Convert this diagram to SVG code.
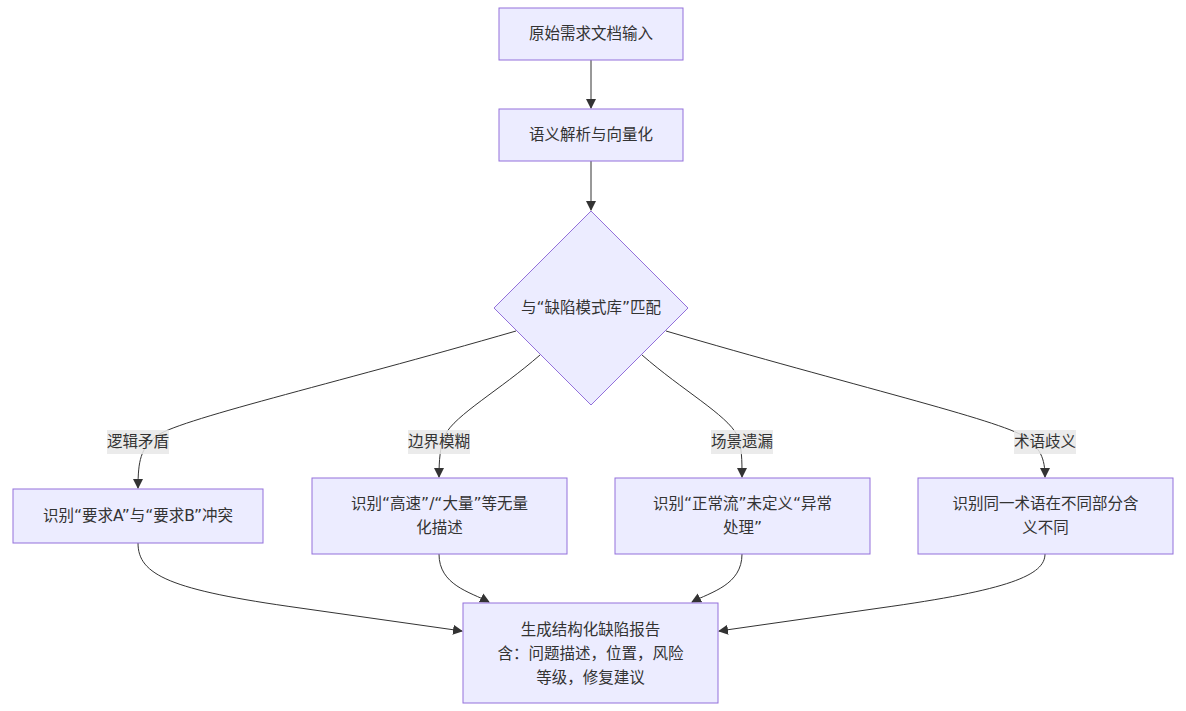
<svg xmlns="http://www.w3.org/2000/svg" width="1186" height="711" viewBox="0 0 1186 711">
<style>
.node rect,.node polygon{fill:#ECECFF;stroke:#9370DB;stroke-width:1}
text{font-family:"DejaVu Sans","Noto Sans CJK SC",sans-serif;font-size:15.5px;fill:#333;text-anchor:middle;dominant-baseline:central}
.edge{fill:none;stroke:#333;stroke-width:1}
.lbl{fill:#e8e8e8;opacity:0.85}
</style>
<defs>
<marker id="arr" viewBox="0 0 10 10" refX="9" refY="5" markerWidth="10" markerHeight="10" markerUnits="userSpaceOnUse" orient="auto">
<path d="M0,0 L10,5 L0,10 z" fill="#333"/>
</marker>
</defs>
<rect width="1186" height="711" fill="#ffffff"/>
<g id="edges">
<path class="edge" d="M591,60 L591,108" marker-end="url(#arr)"/>
<path class="edge" d="M591,161 L591,210" marker-end="url(#arr)"/>
<path class="edge" d="M516,331 C330,385 175,420 155,437 C141,449 138,460 138,488" marker-end="url(#arr)"/>
<path class="edge" d="M540,355 C500,390 455,415 445,435 C440,447 439,460 439,477" marker-end="url(#arr)"/>
<path class="edge" d="M642,355 C682,390 727,415 737,435 C742,447 742,460 742,477" marker-end="url(#arr)"/>
<path class="edge" d="M666,331 C850,385 1000,420 1025,437 C1040,448 1045,458 1045,477" marker-end="url(#arr)"/>
<path class="edge" d="M138,543 C138,575 170,590 300,608 L462,631" marker-end="url(#arr)"/>
<path class="edge" d="M439,554 C439,585 470,592 489,602" marker-end="url(#arr)"/>
<path class="edge" d="M742,554 C742,585 711,592 692,602" marker-end="url(#arr)"/>
<path class="edge" d="M1045,554 C1045,575 1010,590 880,608 L719,631" marker-end="url(#arr)"/>
<g id="edge-labels">
<rect class="lbl" x="107" y="430" width="62" height="24"/><text x="138" y="442">逻辑矛盾</text>
<rect class="lbl" x="408" y="430" width="62" height="24"/><text x="439" y="442">边界模糊</text>
<rect class="lbl" x="711" y="430" width="62" height="24"/><text x="742" y="442">场景遗漏</text>
<rect class="lbl" x="1014" y="430" width="62" height="24"/><text x="1045" y="442">术语歧义</text>
</g>
</g>
<g id="n1" class="node"><rect x="499" y="8" width="184" height="52"/><text x="591" y="34">原始需求文档输入</text></g>
<g id="n2" class="node"><rect x="499" y="109" width="184" height="52"/><text x="591" y="135">语义解析与向量化</text></g>
<g id="n3" class="node"><polygon points="591,211 688,308 591,405 494,308"/><text x="591" y="308">与“缺陷模式库”匹配</text></g>
<g id="nA" class="node"><rect x="13" y="489" width="250" height="54"/><text x="138" y="516">识别“要求A”与“要求B”冲突</text></g>
<g id="nB" class="node"><rect x="312" y="478" width="255" height="76"/><text x="439.5" y="504">识别“高速”/“大量”等无量</text><text x="439.5" y="528">化描述</text></g>
<g id="nC" class="node"><rect x="615" y="478" width="255" height="76"/><text x="742.5" y="504">识别“正常流”未定义“异常</text><text x="742.5" y="528">处理”</text></g>
<g id="nD" class="node"><rect x="918" y="478" width="255" height="76"/><text x="1045.5" y="504">识别同一术语在不同部分含</text><text x="1045.5" y="528">义不同</text></g>
<g id="nE" class="node"><rect x="463" y="603" width="255" height="100"/><text x="590.5" y="630">生成结构化缺陷报告</text><text x="590.5" y="654">含：问题描述，位置，风险</text><text x="590.5" y="678">等级，修复建议</text></g>
</svg>
